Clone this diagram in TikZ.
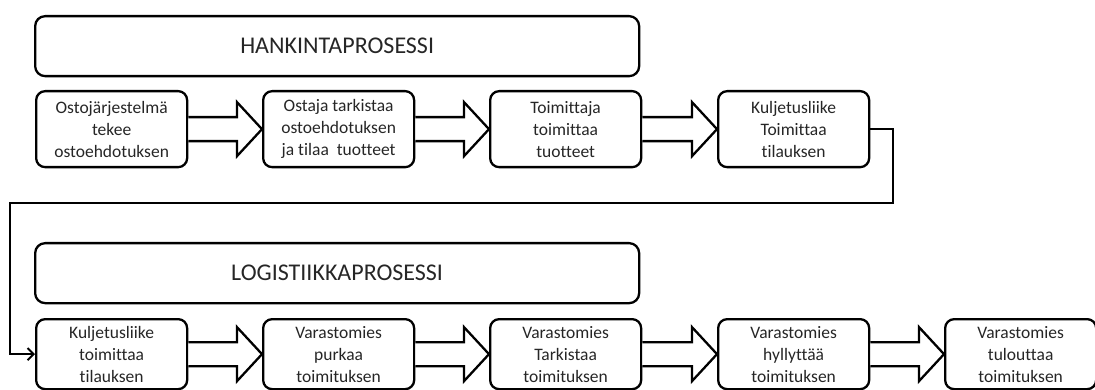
\documentclass[tikz,border=0pt]{standalone}
\usepackage{fontspec}
\setmainfont[Ligatures=NoCommon]{Carlito}
\usetikzlibrary{arrows.meta,calc}
\tikzset{
  stepbox/.style={draw, line width=2.3pt, rounded corners=9pt, minimum width=151pt, align=center,
    font=\fontsize{17.5}{22}\selectfont, text=black!85, inner sep=0pt, anchor=north west},
  rowone/.style={stepbox, minimum height=76pt},
  rowtwo/.style={stepbox, minimum height=70pt},
  titlebox/.style={draw, line width=2.3pt, rounded corners=10pt, minimum width=604pt, minimum height=60pt,
    font=\fontsize{24}{28}\selectfont, text=black!85, inner sep=0pt, anchor=north west},
  blockarrow/.style={draw, line width=2.3pt, fill=white, line join=miter},
  conn/.style={draw, line width=2.4pt, -{Straight Barb[length=6pt,width=12pt,line width=2pt]}}
}
\newcommand\blockarr[2]{%
  \draw[blockarrow] ($(#1.east)+(0,12)$) -- ($(#2.west)+(-25,12)$) -- ($(#2.west)+(-25,27)$)
    -- (#2.west) -- ($(#2.west)+(-25,-27)$) -- ($(#2.west)+(-25,-12)$) -- ($(#1.east)+(0,-12)$);}
\begin{document}
\begin{tikzpicture}[x=1pt,y=-1pt]
\useasboundingbox (0,0) rectangle (1095,390);
\node[titlebox] (t1) at (34,15) {HANKINTAPROSESSI};
\node[titlebox] (t2) at (34,242) {LOGISTIIKKAPROSESSI};

\node[rowone] (a1) at (35,90) {Ostojärjestelmä\\tekee\\ostoehdotuksen};
\node[rowone] (a2) at (262,90) {Ostaja tarkistaa\\ostoehdotuksen\\ja tilaa\ \ tuotteet};
\node[rowone] (a3) at (489,90) {Toimittaja\\toimittaa\\tuotteet};
\node[rowone] (a4) at (717,90) {Kuljetusliike\\Toimittaa\\tilauksen};

\node[rowtwo] (b1) at (35,318) {Kuljetusliike\\toimittaa\\tilauksen};
\node[rowtwo] (b2) at (262,318) {Varastomies\\purkaa\\toimituksen};
\node[rowtwo] (b3) at (489,318) {Varastomies\\Tarkistaa\\toimituksen};
\node[rowtwo] (b4) at (717,318) {Varastomies\\hyllyttää\\toimituksen};
\node[rowtwo] (b5) at (944,318) {Varastomies\\tulouttaa\\toimituksen};

\blockarr{a1}{a2}
\blockarr{a2}{a3}
\blockarr{a3}{a4}
\blockarr{b1}{b2}
\blockarr{b2}{b3}
\blockarr{b3}{b4}
\blockarr{b4}{b5}

\coordinate (cr) at (893,203);
\coordinate (cl) at (10,203);
\draw[conn] (a4.east) -| (cr) -- (cl) |- (b1.west);
\end{tikzpicture}
\end{document}
